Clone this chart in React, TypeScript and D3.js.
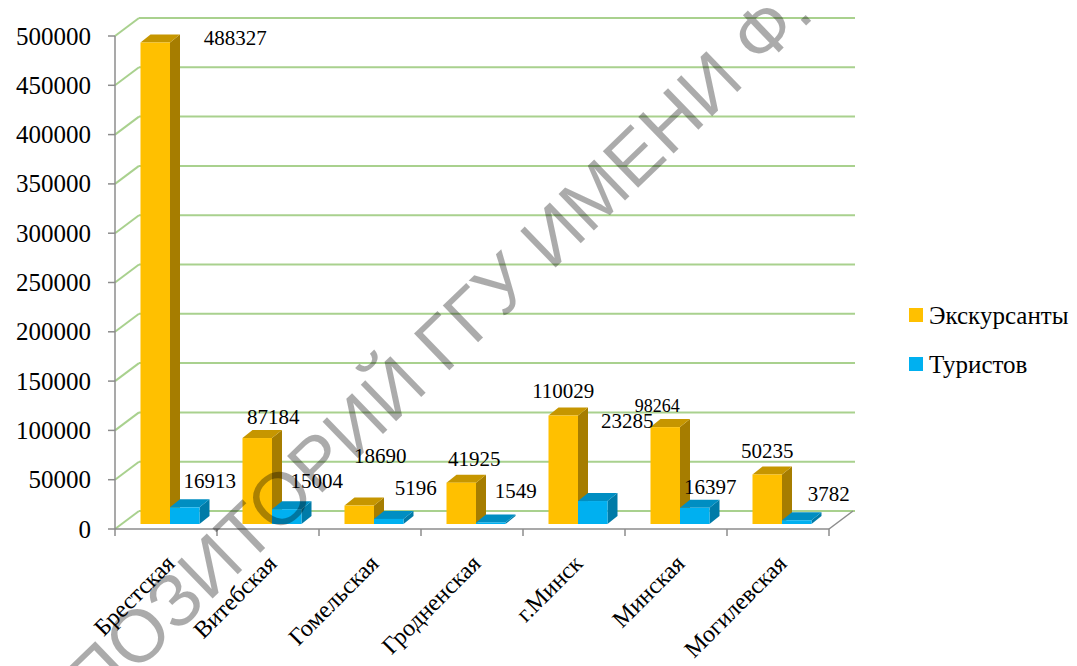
import React from 'react';
import * as d3 from 'd3';

const categories = ['Брестская', 'Витебская', 'Гомельская', 'Гродненская', 'г.Минск', 'Минская', 'Могилевская'];
const excursionists = [488327, 87184, 18690, 41925, 110029, 98264, 50235];
const tourists = [16913, 15004, 5196, 1549, 23285, 16397, 3782];
const seriesNames = ['Экскурсанты', 'Туристов'];
const yTickValues = [0, 50000, 100000, 150000, 200000, 250000, 300000, 350000, 400000, 450000, 500000];

// label offsets from the top-centre of each bar front (Excel put them a bit unevenly)
const excNudge = [[80, 2.5], [16, -14], [21, -42.6], [13, -16.7], [0, -17.5], [-8, -15], [0, -16.5]];
const tourNudge = [[25, -19], [30, -21], [27, -24], [25, -24.5], [34.5, -73], [15.5, -14], [32, -19]];

const W = 1077;
const H = 666;
const WALL_DX = 24;
const WALL_DY = -18;
const BAR_DX = 7;
const BAR_DY = -5;
const DEPTH_DX = 10;
const DEPTH_DY = -8;
const BAR_W = 29.5;

const colors = {
  exc: { front: '#FFC000', side: '#A67D00', top: '#C69600' },
  tour: { front: '#00B0F0', side: '#007BA8', top: '#008EC2' },
};
const grid = '#A9D18E';
const axis = '#8C8C8C';
const serif = "'Liberation Serif', 'DejaVu Serif', 'Times New Roman', serif";

const x = d3.scaleBand<string>().domain(categories).range([115, 829]).padding(0);
const y = d3.scaleLinear().domain([0, 500000]).range([529, 36]);

function Bar({ x0, v, c }: { x0: number; v: number; c: { front: string; side: string; top: string } }) {
  const base = y(0) + BAR_DY;
  const top = y(v) + BAR_DY;
  const x1 = x0 + BAR_W;
  const side = `M${x1},${top} L${x1 + DEPTH_DX},${top + DEPTH_DY} L${x1 + DEPTH_DX},${base + DEPTH_DY} L${x1},${base} Z`;
  const lid = `M${x0},${top} L${x0 + DEPTH_DX},${top + DEPTH_DY} L${x1 + DEPTH_DX},${top + DEPTH_DY} L${x1},${top} Z`;
  return (
    <g>
      <path d={side} fill={c.side} />
      <path d={lid} fill={c.top} />
      <rect x={x0} y={top} width={BAR_W} height={base - top} fill={c.front} />
    </g>
  );
}

export default function App() {
  const bw = x.bandwidth();
  const gap = (bw - 2 * BAR_W - DEPTH_DX) / 2 + 2;
  return (
    <svg width={W} height={H} style={{ position: 'absolute', left: 0, top: 0, background: '#fff' }}>
      {/* back wall gridlines and side wall diagonals */}
      {yTickValues.map((t) => (
        <g key={t}>
          <line x1={115} y1={y(t)} x2={115 + WALL_DX} y2={y(t) + WALL_DY} stroke={grid} strokeWidth={2} />
          <line x1={115 + WALL_DX} y1={y(t) + WALL_DY} x2={829 + WALL_DX + 2} y2={y(t) + WALL_DY} stroke={grid} strokeWidth={2} />
        </g>
      ))}

      {/* floor edges */}
      <line x1={115} y1={y(0)} x2={829} y2={y(0)} stroke={axis} strokeWidth={1.5} />
      <line x1={829} y1={y(0)} x2={829 + WALL_DX} y2={y(0) + WALL_DY} stroke={axis} strokeWidth={1.5} />
      {[...categories.map((c) => x(c)!), 829].map((t, i) => (
        <line key={i} x1={t} y1={y(0)} x2={t} y2={y(0) + 7} stroke={axis} strokeWidth={1.5} />
      ))}

      {/* value axis */}
      <line x1={115} y1={y(500000)} x2={115} y2={y(0)} stroke={axis} strokeWidth={1.5} />
      {yTickValues.map((t) => (
        <g key={t}>
          <line x1={108} y1={y(t)} x2={115} y2={y(t)} stroke={axis} strokeWidth={1.5} />
          <text x={91} y={y(t)} dy="0.34em" textAnchor="end" style={{ fontFamily: serif }} fontSize={25} fill="#000">
            {t}
          </text>
        </g>
      ))}

      {/* bars */}
      {categories.map((c, i) => {
        const bx = x(c)! + BAR_DX + gap;
        return (
          <g key={c}>
            <Bar x0={bx} v={excursionists[i]} c={colors.exc} />
            <Bar x0={bx + BAR_W} v={tourists[i]} c={colors.tour} />
          </g>
        );
      })}

      {/* data labels */}
      {categories.map((c, i) => {
        const bx = x(c)! + BAR_DX + gap;
        return (
          <g key={c} style={{ fontFamily: serif }} fill="#000" textAnchor="middle">
            <text x={bx + BAR_W / 2 + excNudge[i][0]} y={y(excursionists[i]) + BAR_DY + excNudge[i][1]} fontSize={i === 5 ? 18 : 21}>
              {excursionists[i]}
            </text>
            <text x={bx + BAR_W * 1.5 + tourNudge[i][0]} y={y(tourists[i]) + BAR_DY + tourNudge[i][1]} fontSize={21}>
              {tourists[i]}
            </text>
          </g>
        );
      })}

      {/* category labels */}
      {categories.map((c) => {
        const cx = x(c)! + bw / 2 + 10;
        return (
          <text key={c} transform={`translate(${cx},565) rotate(-45)`} textAnchor="end" style={{ fontFamily: serif }} fontSize={24} fill="#000">
            {c}
          </text>
        );
      })}

      {/* legend */}
      {seriesNames.map((s, i) => (
        <g key={s} transform={`translate(909,${308 + i * 49})`}>
          <rect width={14} height={14} fill={i === 0 ? colors.exc.front : colors.tour.front} />
          <text x={20} y={16} style={{ fontFamily: serif }} fontSize={25} fill="#000">
            {s}
          </text>
        </g>
      ))}

      {/* watermark */}
      <text
        transform="translate(816,16) rotate(-44)"
        textAnchor="end"
        style={{ fontFamily: "'Liberation Sans', Arial, sans-serif" }}
        fontSize={74}
        fill="#000"
        fillOpacity={0.33}
      >
        РЕПОЗИТОРИЙ ГГУ ИМЕНИ Ф.
      </text>
    </svg>
  );
}
